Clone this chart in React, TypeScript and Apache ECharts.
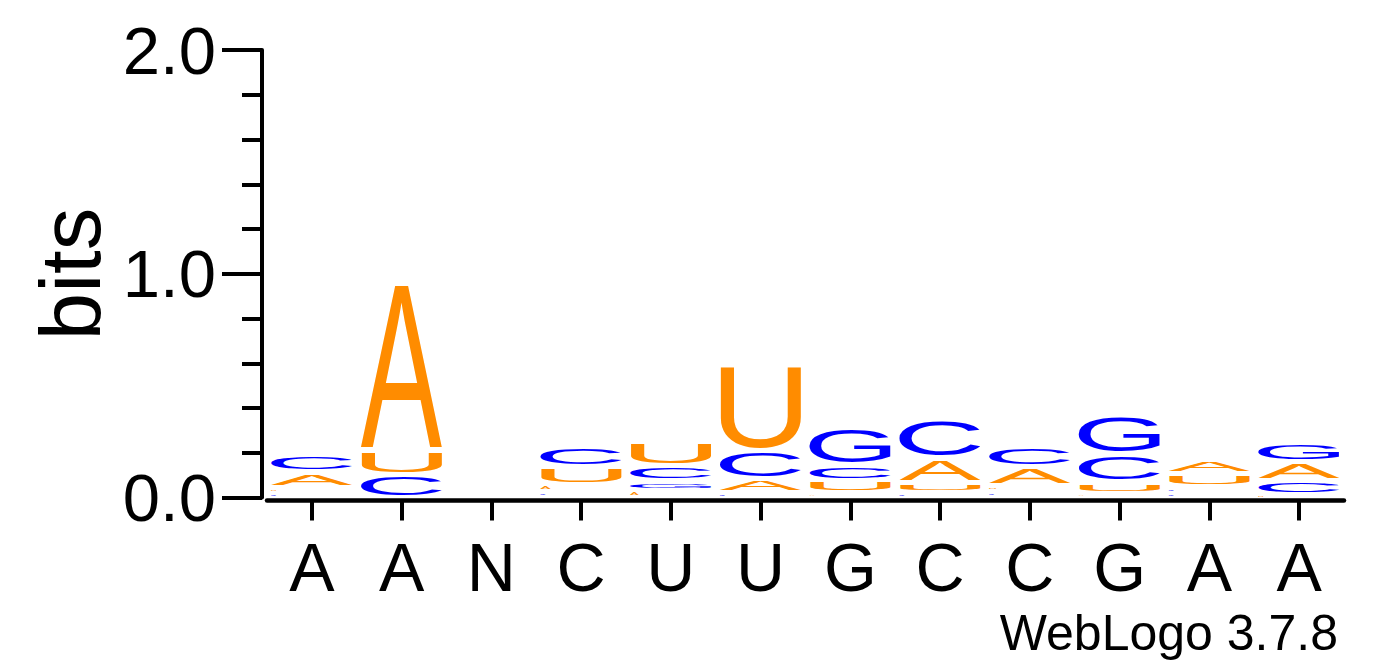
import { useEffect, useRef } from 'react';
import * as echarts from 'echarts';

// sequence positions (x axis labels)
const POSITIONS = ['A', 'A', 'N', 'C', 'U', 'U', 'G', 'C', 'C', 'G', 'A', 'A'];

// information content per letter and position (bits)
const A_BITS = [0.07, 0.746, 0, 0.034, 0.032, 0.059, 0.022, 0.11, 0.083, 0.018, 0.062, 0.084];
const C_BITS = [0.074, 0.102, 0, 0.092, 0.066, 0.127, 0.07, 0.175, 0.095, 0.123, 0.028, 0.062];
const G_BITS = [0.02, 0, 0, 0.025, 0.042, 0.022, 0.169, 0.022, 0.025, 0.175, 0.02, 0.086];
const U_BITS = [0.024, 0.107, 0, 0.077, 0.108, 0.384, 0.055, 0.045, 0.03, 0.052, 0.058, 0.012];

const LETTERS = ['A', 'C', 'G', 'U'];
const BITS: Record<string, number[]> = { A: A_BITS, C: C_BITS, G: G_BITS, U: U_BITS };

const COLORS: Record<string, string> = {
    A: '#FF8C00',
    U: '#FF8C00',
    C: '#0000FF',
    G: '#0000FF',
};

const FONT = '"Liberation Sans", Arial, Helvetica, sans-serif';
const PAD = 2.5;

// measure glyph ink boxes of the installed font, so letters can be stretched to fill their box
function measureGlyphs() {
    const F = 100;
    const ink: Record<string, { x0: number; x1: number; y0: number; y1: number }> = {};
    let central = 0.3467;
    const ctx = document.createElement('canvas').getContext('2d');
    if (!ctx) return { ink: null, central };
    ctx.font = `${F}px ${FONT}`;
    LETTERS.forEach((l) => {
        const m = ctx.measureText(l);
        ink[l] = {
            x0: -m.actualBoundingBoxLeft / F,
            x1: m.actualBoundingBoxRight / F,
            y0: -m.actualBoundingBoxDescent / F,
            y1: m.actualBoundingBoxAscent / F,
        };
        if (m.fontBoundingBoxAscent) {
            central = (m.fontBoundingBoxAscent - m.fontBoundingBoxDescent) / 2 / F;
        }
    });
    return { ink, central };
}

const FALLBACK_INK: Record<string, { x0: number; x1: number; y0: number; y1: number }> = {
    A: { x0: 0, x1: 0.668, y0: 0, y1: 0.688 },
    C: { x0: 0.05, x1: 0.683, y0: -0.012, y1: 0.7 },
    G: { x0: 0.055, x1: 0.728, y0: -0.012, y1: 0.7 },
    U: { x0: 0.079, x1: 0.642, y0: -0.012, y1: 0.688 },
};

export default function App() {
    const chartRef = useRef<HTMLDivElement>(null);

    useEffect(() => {
        if (!chartRef.current) return;
        const chart = echarts.init(chartRef.current, undefined, { renderer: 'svg' });
        const measured = measureGlyphs();
        const INK = measured.ink || FALLBACK_INK;
        const CENTRAL = measured.central;

        const renderItem = (params: any, api: any) => {
            const i = params.dataIndex;
            const stack = LETTERS.map((l) => ({ letter: l, bits: BITS[l][i] }))
                .filter((d) => d.bits > 0)
                .sort((a, b) => a.bits - b.bits);
            const cx = api.coord([i, 0])[0];
            const full = api.size([1, 0])[0] * 0.91;
            const left = cx - full / 2;
            const F = 100;
            let acc = 0;
            const children: any[] = [];
            stack.forEach((d) => {
                const yBot = api.coord([i, acc])[1];
                acc += d.bits;
                const yTop = api.coord([i, acc])[1];
                let top = yTop + PAD;
                let bottom = yBot - PAD;
                if (bottom - top < 1) {
                    const mid = (yTop + yBot) / 2;
                    top = mid - 0.6;
                    bottom = mid + 0.6;
                }
                const h = bottom - top;
                const w = h < 4 ? Math.min(full, h * 4) : full;
                const m = INK[d.letter];
                const sx = w / ((m.x1 - m.x0) * F);
                const sy = h / ((m.y1 - m.y0) * F);
                children.push({
                    type: 'text',
                    x: left - sx * m.x0 * F,
                    y: top - sy * (CENTRAL - m.y1) * F,
                    scaleX: sx,
                    scaleY: sy,
                    style: {
                        text: d.letter,
                        x: 0,
                        y: 0,
                        fontSize: F,
                        fontFamily: FONT,
                        fill: COLORS[d.letter],
                        align: 'left',
                        verticalAlign: 'middle',
                    },
                });
            });
            return { type: 'group', children };
        };

        const option = {
            animation: false,
            grid: { left: 267, right: 48, top: 50, bottom: 169.5 },
            xAxis: {
                type: 'category',
                data: POSITIONS.map((_, i) => String(i)),
                offset: 3,
                axisLine: { show: true, onZero: false, lineStyle: { color: '#000', width: 4.5 } },
                axisTick: {
                    show: true,
                    alignWithLabel: true,
                    interval: 0,
                    length: 20,
                    lineStyle: { color: '#000', width: 4 },
                },
                axisLabel: {
                    interval: 0,
                    margin: 32,
                    fontSize: 68,
                    fontFamily: FONT,
                    color: '#000',
                    formatter: (v: string) => POSITIONS[Number(v)],
                },
                splitLine: { show: false },
            },
            yAxis: {
                type: 'value',
                min: 0,
                max: 2,
                interval: 1,
                offset: 5,
                axisLine: { show: true, lineStyle: { color: '#000', width: 4 } },
                axisTick: { show: true, length: 40, lineStyle: { color: '#000', width: 4 } },
                minorTick: { show: true, splitNumber: 5, length: 20, lineStyle: { color: '#000', width: 4 } },
                axisLabel: {
                    margin: 46,
                    fontSize: 67,
                    fontFamily: FONT,
                    color: '#000',
                    formatter: (v: number) => v.toFixed(1),
                },
                splitLine: { show: false },
            },
            series: [
                {
                    type: 'custom',
                    renderItem,
                    data: POSITIONS.map((_, i) => [i, 0]),
                    encode: { x: 0, y: 1 },
                    clip: false,
                    silent: true,
                },
            ],
            graphic: [
                {
                    type: 'text',
                    x: 100 - CENTRAL * 85,
                    y: 274,
                    rotation: Math.PI / 2,
                    style: {
                        text: 'bits',
                        fontSize: 85,
                        fontFamily: FONT,
                        fill: '#000',
                        align: 'center',
                        verticalAlign: 'middle',
                    },
                },
                {
                    type: 'text',
                    x: 1338,
                    y: 650 - CENTRAL * 50,
                    style: {
                        text: 'WebLogo 3.7.8',
                        fontSize: 50,
                        fontFamily: FONT,
                        fill: '#000',
                        align: 'right',
                        verticalAlign: 'middle',
                    },
                },
            ],
        };

        chart.setOption(option);

        return () => {
            chart.dispose();
        };
    }, []);

    return (
        <div
            ref={chartRef}
            style={{ position: 'fixed', left: 0, top: 0, width: 1392, height: 667, background: '#fff' }}
        />
    );
}
